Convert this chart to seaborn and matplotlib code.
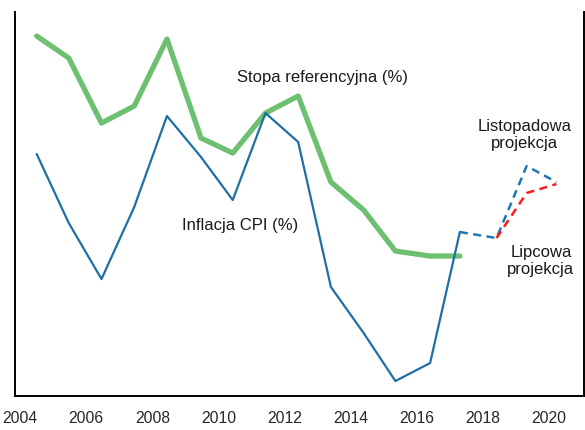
import numpy as np
import pandas as pd
import matplotlib
matplotlib.use("Agg")
import matplotlib.pyplot as plt
import seaborn as sns

# positions of the annual points
hist_x = [2004.50, 2005.47, 2006.46, 2007.45, 2008.44, 2009.47, 2010.43,
          2011.42, 2012.41, 2013.40, 2014.39, 2015.35, 2016.40, 2017.30]
stopa_ref = [36.0, 33.8, 27.3, 29.0, 35.7, 25.8, 24.3,
             28.3, 30.0, 21.4, 18.6, 14.5, 14.0, 14.0]
inflacja = [24.2, 17.3, 11.7, 18.9, 28.0, 23.9, 19.6,
            28.3, 25.4, 10.9, 6.3, 1.5, 3.3, 16.4]

proj_x_listopad = [2017.30, 2018.41, 2019.32, 2020.22]
proj_listopad = [16.4, 15.8, 23.0, 21.4]
proj_x_lipiec = [2018.41, 2019.32, 2020.22]
proj_lipiec = [15.8, 20.3, 21.2]

year_ticks = [2004, 2006, 2008, 2010, 2012, 2014, 2016, 2018, 2020]

sns.set_style("white")
plt.rcParams['font.family'] = ['Liberation Sans', 'DejaVu Sans']

df_hist = pd.DataFrame({"rok": hist_x, "stopa": stopa_ref, "cpi": inflacja})
df_lis = pd.DataFrame({"rok": proj_x_listopad, "val": proj_listopad})
df_lip = pd.DataFrame({"rok": proj_x_lipiec, "val": proj_lipiec})

fig = plt.figure(figsize=(5.85, 4.30), dpi=100)
ax = fig.add_axes([0.026, 0.079, 0.972, 0.893])

sns.lineplot(data=df_hist, x="rok", y="stopa", ax=ax, color="#6cc070", lw=3.8)
sns.lineplot(data=df_hist, x="rok", y="cpi", ax=ax, color="#1f6fa6", lw=1.6)
sns.lineplot(data=df_lis, x="rok", y="val", ax=ax, color="#1f78b4", lw=1.8)
ax.lines[-1].set_dashes((3.2, 2.2))
sns.lineplot(data=df_lip, x="rok", y="val", ax=ax, color="#ff1a1a", lw=1.8)
ax.lines[-1].set_dashes((3.2, 2.2))

ax.set_xlim(2003.85, 2021.05)
ax.set_ylim(0, 38.4)
ax.set_xticks(year_ticks)
ax.set_xticklabels([str(y) for y in year_ticks], fontsize=11.3)
ax.set_yticks([])
ax.set_xlabel("")
ax.set_ylabel("")
ax.tick_params(axis="x", direction="out", length=5, width=1.4, color="black", pad=6)

for side in ["left", "bottom", "right"]:
    ax.spines[side].set_visible(True)
    ax.spines[side].set_color("black")
    ax.spines[side].set_linewidth(1.4)
ax.spines["top"].set_visible(False)

txt = dict(fontsize=12, color="#1a1a1a", ha="center", va="center")
ax.text(2013.15, 31.9, "Stopa referencyjna (%)", **txt)
ax.text(2010.65, 17.1, "Inflacja CPI (%)", **txt)
ax.text(2019.25, 26.1, "Listopadowa\nprojekcja", linespacing=1.2, **txt)
ax.text(2019.75, 13.5, "Lipcowa\nprojekcja", linespacing=1.2, **txt)

fig.savefig("out.png", dpi=100)
